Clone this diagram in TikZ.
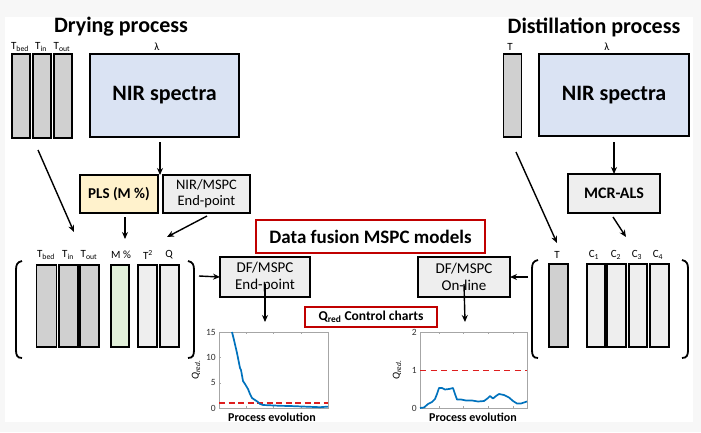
\documentclass[tikz,border=0pt]{standalone}
\usepackage{fontspec}
\setmainfont{Carlito}
\usetikzlibrary{arrows.meta}
\definecolor{nirblue}{RGB}{218,227,243}
\definecolor{plsyel}{RGB}{255,242,204}
\definecolor{mgreen}{RGB}{226,240,217}
\definecolor{lgray}{RGB}{238,238,238}
\definecolor{dgray}{RGB}{208,208,208}
\definecolor{redb}{RGB}{192,0,0}
\definecolor{mblue}{RGB}{0,114,189}
\definecolor{dred}{RGB}{222,30,30}
\begin{document}
\begin{tikzpicture}[x=1pt,y=-1pt,
  box/.style={draw=black, line width=1.8pt, inner sep=0pt, outer sep=0pt, align=center},
  bar/.style={draw=black, line width=1.8pt, inner sep=0pt, outer sep=0pt, minimum width=18pt},
  lab/.style={font=\fontsize{11}{12}\selectfont, inner sep=0pt},
  redbox/.style={draw=redb, line width=1.8pt, fill=white, inner sep=0pt, outer sep=0pt},
  arr/.style={-{Stealth[length=7pt,width=6pt]}, line width=1.4pt},
  brk/.style={line width=1.8pt},
  axbox/.style={draw=gray!70, line width=0.6pt},
  tick/.style={font=\fontsize{9.5}{10}\selectfont, inner sep=0pt, anchor=east, text=black!80},
  curve/.style={mblue, line width=1.7pt, line join=round}
]
\useasboundingbox (0,0) rectangle (701,432);
\fill[black!3] (0,0) rectangle (701,432);
\fill[white] (5,17) rectangle (693,422);

% titles
\node[font=\fontsize{22}{24}\selectfont\bfseries, inner sep=0pt] (tdry) at (121,27) {Drying process};
\node[font=\fontsize{22}{24}\selectfont\bfseries, inner sep=0pt] (tdis) at (594,27) {Distillation process};

% ---- top left
\node[bar, fill=dgray, minimum height=84pt] (b1) at (21,96) {};
\node[bar, fill=dgray, minimum height=84pt] (b2) at (42,96) {};
\node[bar, fill=dgray, minimum height=84pt] (b3) at (63,96) {};
\node[lab] (l1) at (20,47) {T\textsubscript{bed}};
\node[lab] (l2) at (41,47) {T\textsubscript{in}};
\node[lab] (l3) at (62,47) {T\textsubscript{out}};
\node[box, fill=nirblue, minimum width=149pt, minimum height=83pt, font=\fontsize{22}{24}\selectfont\bfseries] (nirL) at (164.5,95.5) {NIR spectra};
\node[lab] (lamL) at (157,47) {λ};

% ---- top right
\node[bar, fill=dgray, minimum height=83pt] (bt) at (512.5,95.5) {};
\node[lab] (lt) at (510,47) {T};
\node[box, fill=nirblue, minimum width=150pt, minimum height=82pt, font=\fontsize{22}{24}\selectfont\bfseries] (nirR) at (614,95) {NIR spectra};
\node[lab] (lamR) at (607,47) {λ};

% ---- models
\node[box, fill=plsyel, minimum width=78pt, minimum height=38pt, font=\fontsize{15}{17}\selectfont\bfseries] (pls) at (119,194) {PLS (M \%)};
\node[box, fill=lgray, minimum width=87pt, minimum height=38pt, font=\fontsize{14.5}{16}\selectfont] (nmspc) at (206.5,194) {NIR/MSPC\\End-point};
\node[box, fill=lgray, minimum width=92pt, minimum height=39pt, font=\fontsize{16}{18}\selectfont\bfseries] (mcr) at (614,193.5) {MCR-ALS};

% ---- lower left bars
\node[bar, fill=dgray, minimum height=82pt, minimum width=20pt] (c1) at (46.5,306) {};
\node[bar, fill=dgray, minimum height=82pt, minimum width=19pt] (c2) at (68.5,306) {};
\node[bar, fill=dgray, minimum height=82pt, minimum width=19pt] (c3) at (89.5,306) {};
\node[bar, fill=mgreen, minimum height=82pt, minimum width=18pt] (c4) at (120,306) {};
\node[bar, fill=lgray, minimum height=82pt, minimum width=19pt] (c5) at (147.5,306) {};
\node[bar, fill=lgray, minimum height=82pt, minimum width=19pt] (c6) at (169.5,306) {};
\node[lab] (m1) at (46,255) {T\textsubscript{bed}};
\node[lab] (m2) at (68,255) {T\textsubscript{in}};
\node[lab] (m3) at (89,255) {T\textsubscript{out}};
\node[lab] (m4) at (121,255) {M \%};
\node[lab] (m5) at (148,255) {T\textsuperscript{2}};
\node[lab] (m6) at (169,255) {Q};
\draw[brk] (22,261) .. controls (17,262) and (16,265) .. (16,270) -- (16,350) .. controls (16,355) and (17,358) .. (22,358);
\draw[brk] (188,261) .. controls (193,262) and (194,265) .. (194,270) -- (194,350) .. controls (194,355) and (193,358) .. (188,358);
\coordinate (brL) at (199,276);

% ---- lower right bars
\node[bar, fill=dgray, minimum height=83pt, minimum width=19pt] (d1) at (558.5,305.5) {};
\node[bar, fill=lgray, minimum height=83pt, minimum width=18pt] (d2) at (596,305.5) {};
\node[bar, fill=lgray, minimum height=83pt, minimum width=19pt] (d3) at (616.5,305.5) {};
\node[bar, fill=lgray, minimum height=83pt, minimum width=18pt] (d4) at (638,305.5) {};
\node[bar, fill=lgray, minimum height=83pt, minimum width=19pt] (d5) at (659.5,305.5) {};
\node[lab] (n1) at (557,255) {T};
\node[lab] (n2) at (594,255) {C\textsubscript{1}};
\node[lab] (n3) at (616,255) {C\textsubscript{2}};
\node[lab] (n4) at (637,255) {C\textsubscript{3}};
\node[lab] (n5) at (658,255) {C\textsubscript{4}};
\draw[brk] (538,260) .. controls (533,261) and (532,264) .. (532,269) -- (532,350) .. controls (532,355) and (533,358) .. (538,358);
\draw[brk] (682,260) .. controls (687,261) and (688,264) .. (688,269) -- (688,350) .. controls (688,355) and (687,358) .. (682,358);
\coordinate (brR) at (528,277);

% ---- fusion
\node[redbox, minimum width=229pt, minimum height=33pt, font=\fontsize{19}{21}\selectfont\bfseries] (df) at (370.5,236.5) {Data fusion MSPC models};
\node[box, fill=lgray, minimum width=90pt, minimum height=40pt, font=\fontsize{15}{17}\selectfont] (dfe) at (265,277) {DF/MSPC\\End-point};
\node[box, fill=lgray, minimum width=92pt, minimum height=40pt, font=\fontsize{15}{17}\selectfont] (dfo) at (464,277) {DF/MSPC\\On-line};
\node[redbox, minimum width=132pt, minimum height=20pt, font=\fontsize{13.5}{15}\selectfont\bfseries] (qc) at (371,317) {Q\textsubscript{red} Control charts};

% ---- arrows
\coordinate (s1) at (38,150); \coordinate (e1) at (74,232);
\draw[arr] (s1) -- (e1);
\coordinate (s2) at (160,142);
\draw[arr] (s2) -- (pls.north -| s2);
\coordinate (s3) at (125,217); \coordinate (e3b) at (125,239);
\draw[arr] (s3) -- (e3b);
\coordinate (s3c) at (207,216); \coordinate (e3) at (167,237);
\draw[arr] (s3c) -- (e3);
\draw[arr] (brL) -- (dfe.west);
\coordinate (s4) at (516,152); \coordinate (e4) at (557,243);
\draw[arr] (s4) -- (e4);
\coordinate (s5) at (614,142);
\draw[arr] (s5) -- (mcr.north);
\coordinate (s6) at (613,217); \coordinate (e5) at (626,237);
\draw[arr] (s6) -- (e5);
\draw[arr] (brR) -- (dfo.east);
\coordinate (a1) at (265,322); \coordinate (a2) at (465,322);
\draw[arr] ([yshift=13pt]dfe.south) -- (a1);
\draw[arr] ([yshift=13pt]dfo.south) -- (a2);

% ---- left chart
\node[axbox, minimum width=109pt, minimum height=76pt, inner sep=0pt, outer sep=0pt] (ch1) at (273.5,370) {};
\foreach \v/\y in {0/408,5/382.7,10/357.3,15/332}{
  \draw[gray!70, line width=0.4pt] (219,\y) -- (221,\y);
  \node[tick] at (216,\y) {\v};
}
\foreach \x in {246,273,301}{\draw[gray!70, line width=0.4pt] (\x,332) -- (\x,334); \draw[gray!70, line width=0.4pt] (\x,408) -- (\x,406);}
\draw[dred, line width=1.7pt, dash pattern=on 6pt off 3.5pt] (219,403) -- (328,403);
\draw[curve] (232,332) -- (234,340) -- (237,353) -- (238,358) -- (240,368) -- (241,370) -- (243,381) -- (245,384) -- (248,389) -- (250,394) -- (252,398) -- (255,400) -- (258,402) -- (260,404) -- (263,405) -- (270,405.3) -- (280,405.8) -- (290,406) -- (300,406.4) -- (310,406.8) -- (320,407.2) -- (328,406.6);
\node[font=\fontsize{10.5}{11}\selectfont, rotate=90, inner sep=0pt] (yl1) at (196,370) {\textit{Q}\textsubscript{\textit{red.}}};
\node[font=\fontsize{12}{13}\selectfont\bfseries, inner sep=0pt] (px1) at (272,417) {Process evolution};

% ---- right chart
\node[axbox, minimum width=107pt, minimum height=76pt, inner sep=0pt, outer sep=0pt] (ch2) at (473.5,370) {};
\foreach \v/\y in {0/408,1/370,2/332}{
  \draw[gray!70, line width=0.4pt] (420,\y) -- (422,\y);
  \node[tick] at (417,\y) {\v};
}
\foreach \x in {439,463,488,513}{\draw[gray!70, line width=0.4pt] (\x,332) -- (\x,334); \draw[gray!70, line width=0.4pt] (\x,408) -- (\x,406);}
\draw[dred, line width=1pt, dash pattern=on 6pt off 4.5pt] (420,370) -- (527,370);
\draw[curve] (420,408) -- (424,407.5) -- (428,404) -- (432,402) -- (435,399) -- (437,394) -- (439,388) -- (442,388) -- (445,389.5) -- (449,389) -- (453,388) -- (455,394) -- (457,399.5) -- (461,399.5) -- (466,400.5) -- (472,400.5) -- (478,401.5) -- (484,401) -- (488,398) -- (490,396) -- (493,398.5) -- (496,396) -- (499,394) -- (504,395) -- (509,397.5) -- (513,401) -- (517,403.5) -- (521,403.5) -- (527,401.5);
\node[font=\fontsize{10.5}{11}\selectfont, rotate=90, inner sep=0pt] (yl2) at (397,370) {\textit{Q}\textsubscript{\textit{red.}}};
\node[font=\fontsize{12}{13}\selectfont\bfseries, inner sep=0pt] (px2) at (473,417) {Process evolution};
\end{tikzpicture}
\end{document}
